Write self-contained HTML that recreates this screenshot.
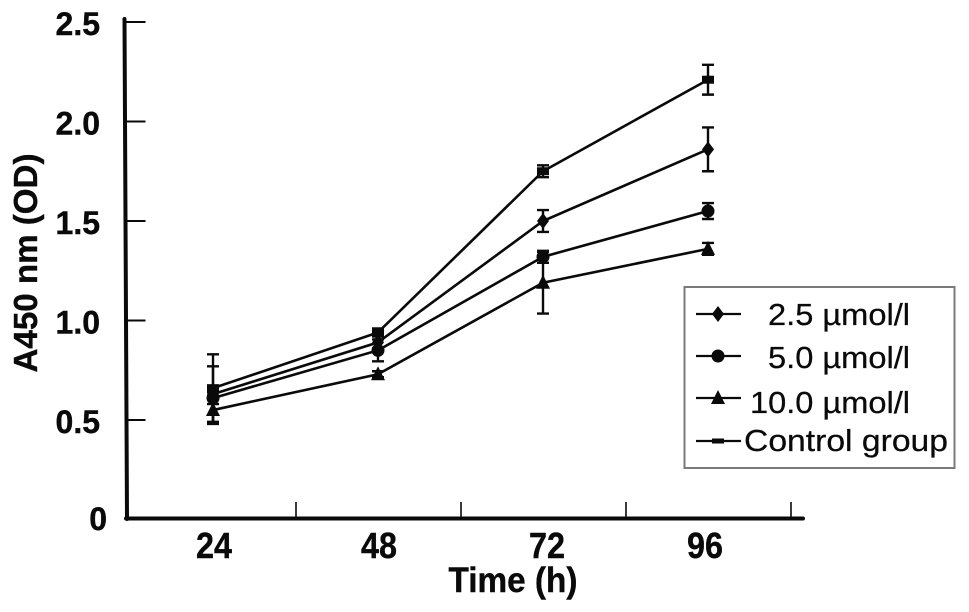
<!DOCTYPE html>
<html>
<head>
<meta charset="utf-8">
<title>Cell growth chart</title>
<style>
html,body{margin:0;padding:0;background:#fff;}
svg{display:block;filter:blur(0.35px);}
text{font-family:"Liberation Sans",sans-serif;fill:#0a0a0a;}
.b{font-weight:bold;stroke:#0a0a0a;stroke-width:0.4px;}
.r{stroke:#0a0a0a;stroke-width:0.25px;}
</style>
</head>
<body>
<svg id="chart" width="969" height="612" viewBox="0 0 969 612"></svg>
<script>
const categories = ['24', '48', '72', '96'];
const yTickValues = [0.5, 1.0, 1.5, 2.0, 2.5];
const yTickLabels = ['0.5', '1.0', '1.5', '2.0', '2.5'];
const controlValues = [0.66, 0.94, 1.75, 2.21];
const controlErrors = [0.17, 0.02, 0.03, 0.075];
const low25Values = [0.63, 0.89, 1.50, 1.86];
const low25Errors = [0.14, 0.03, 0.055, 0.11];
const mid50Values = [0.61, 0.85, 1.32, 1.55];
const mid50Errors = [0.03, 0.055, 0.03, 0.04];
const high100Values = [0.55, 0.73, 1.19, 1.36];
const high100Errors = [0.07, 0.015, 0.155, 0.03];
const seriesNames = ['2.5 µmol/l', '5.0 µmol/l', '10.0 µmol/l', 'Control group'];

const svg = document.getElementById('chart');
const NS = 'http://www.w3.org/2000/svg';
function xPos(i) { return 213 + i * 165; }
function yPos(v) { return 519.5 - v * 199; }
function make(tag, attrs, parent) {
  const el = document.createElementNS(NS, tag);
  for (const k in attrs) el.setAttribute(k, attrs[k]);
  (parent || svg).appendChild(el);
  return el;
}
function marker(kind, x, y, parent) {
  if (kind === 'diamond') return make('polygon', {points: (x-6)+','+y+' '+x+','+(y-8)+' '+(x+6)+','+y+' '+x+','+(y+8), fill: '#0a0a0a'}, parent);
  if (kind === 'circle') return make('circle', {cx: x, cy: y, r: 6.5, fill: '#0a0a0a'}, parent);
  if (kind === 'triangle') return make('polygon', {points: (x-7)+','+(y+6)+' '+x+','+(y-8)+' '+(x+7)+','+(y+6), fill: '#0a0a0a'}, parent);
  return make('rect', {x: x-6, y: y-4, width: 12, height: 8, fill: '#0a0a0a'}, parent);
}

// axes
const yAxis = make('line', {x1: 124.5, y1: 19, x2: 127, y2: 519, stroke: '#0a0a0a', 'stroke-width': 4, 'stroke-linecap': 'round'});


const xAxis = make('line', {x1: 126, y1: 518.5, x2: 803, y2: 518.5, stroke: '#0a0a0a', 'stroke-width': 4, 'stroke-linecap': 'round'});



yTickValues.forEach(function (v, i) {
  const y = yPos(v);
  const tick = make('line', {x1: 125, y1: y, x2: 145.5, y2: y, stroke: '#0a0a0a', 'stroke-width': 2});
  
  
  const label = make('text', {x: 100, y: y + 13, 'text-anchor': 'end', 'font-size': 32, 'class': 'b'});
  
  
  label.textContent = yTickLabels[i];
});
const zeroLabel = make('text', {x: 107, y: 530, 'text-anchor': 'end', 'font-size': 32, 'class': 'b'});


zeroLabel.textContent = '0';

categories.forEach(function (c, i) {
  const bx = xPos(i) + 83;
  const tick = make('line', {x1: bx, y1: 518, x2: bx, y2: 502, stroke: '#0a0a0a', 'stroke-width': 1.6});
  
  
  const label = make('text', {x: xPos(i) + 1 + (i === 3 ? -4 : 0) + (i === 2 ? 3 : 0), y: 558, 'text-anchor': 'middle', 'font-size': 36, 'class': 'b', textLength: 36, lengthAdjust: 'spacingAndGlyphs'});
  
  
  label.textContent = c;
});

const xTitle = make('text', {x: 513, y: 592, 'text-anchor': 'middle', 'font-size': 35, 'class': 'b', textLength: 129, lengthAdjust: 'spacingAndGlyphs'});


xTitle.textContent = 'Time (h)';

const yTitle = make('text', {x: 0, y: 0, 'text-anchor': 'middle', 'font-size': 33, 'class': 'b', textLength: 219, lengthAdjust: 'spacingAndGlyphs', transform: 'translate(37,263) rotate(-90)'});


yTitle.textContent = 'A450 nm (OD)';

// series
const seriesList = [
  {key: 'control', vals: controlValues, errs: controlErrors, kind: 'rect'},
  {key: 'low-2-5', vals: low25Values, errs: low25Errors, kind: 'diamond'},
  {key: 'mid-5-0', vals: mid50Values, errs: mid50Errors, kind: 'circle'},
  {key: 'high-10-0', vals: high100Values, errs: high100Errors, kind: 'triangle'}
];
seriesList.forEach(function (s) {
  const g = make('g', {});
  
  
  const pts = s.vals.map(function (v, i) { return xPos(i) + ',' + yPos(v); }).join(' ');
  make('polyline', {points: pts, fill: 'none', stroke: '#0a0a0a', 'stroke-width': 2.6}, g);
  s.vals.forEach(function (v, i) {
    const x = xPos(i);
    const top = yPos(v + s.errs[i]);
    const bot = yPos(v - s.errs[i]);
    const eb = make('path', {d: 'M' + x + ' ' + top + 'V' + bot + 'M' + (x-6) + ' ' + top + 'H' + (x+6) + 'M' + (x-6) + ' ' + bot + 'H' + (x+6), fill: 'none', stroke: '#0a0a0a', 'stroke-width': 2.4}, g);
    
    
    const m = marker(s.kind, x, yPos(v), g);
    
    
  });
});

// legend
const legend = make('g', {});


make('rect', {x: 684.5, y: 287, width: 270, height: 181, fill: '#fff', stroke: '#7a7a7a', 'stroke-width': 2}, legend);
const legendKinds = ['diamond', 'circle', 'triangle', 'rect'];
const legendLineY = [314, 356, 398, 441];
const legendTextX = [768, 768, 750, 744];
const legendTextW = [142, 142, 160, 204];
const legendTextY = [325, 368, 413, 451];
seriesNames.forEach(function (n, i) {
  const e = make('g', {}, legend);
  
  
  make('line', {x1: 696, y1: legendLineY[i], x2: 741, y2: legendLineY[i], stroke: '#0a0a0a', 'stroke-width': 2.2}, e);
  if (legendKinds[i] === 'rect') {
    make('rect', {x: 712, y: legendLineY[i] - 2.5, width: 12, height: 5, fill: '#0a0a0a'}, e);
  } else {
    marker(legendKinds[i], 718, legendLineY[i], e);
  }
  const t = make('text', {x: legendTextX[i], y: legendTextY[i], 'font-size': 31, 'class': 'r', textLength: legendTextW[i], lengthAdjust: 'spacingAndGlyphs'}, e);
  t.textContent = n;
});
</script>
</body>
</html>
